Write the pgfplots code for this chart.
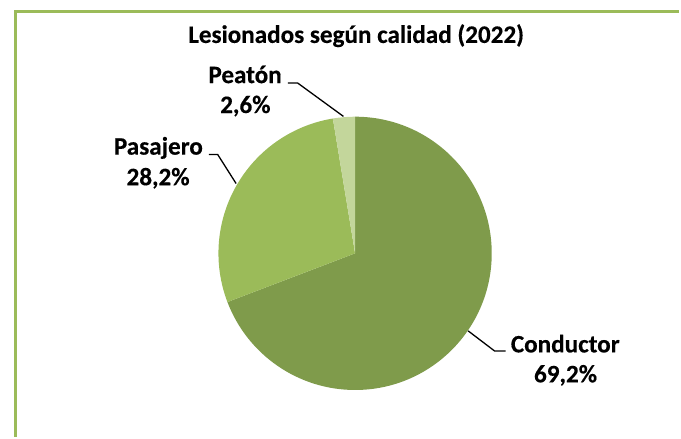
\documentclass[border=0pt]{standalone}
\usepackage{pgfplots}
\pgfplotsset{compat=1.18}
\usepackage{pgfplotstable}
\usepackage{fontspec}
\setmainfont{Carlito}[BoldFeatures={FakeBold=0.35}]
\definecolor{frame}{HTML}{9BBB59}
\definecolor{cond}{HTML}{7F9B4B}
\definecolor{pasa}{HTML}{9BBB59}
\definecolor{peat}{HTML}{C3D69B}
\pgfplotstableread{
label value
Conductor 69.2
Pasajero 28.2
Peaton 2.6
}\piedata
\begin{document}
\begin{tikzpicture}
\begin{axis}[width=681bp, height=438bp, scale only axis, hide axis,
  xmin=0, xmax=681, ymin=0, ymax=438, clip=false]
\path (axis cs:0,0) rectangle (axis cs:681,438);
% frame
\draw[frame, line width=3.5bp] (axis cs:15.5,0) -- (axis cs:15.5,426.5) -- (axis cs:681,426.5);
% pie slices from table values
\pgfplotstablegetelem{0}{value}\of\piedata \let\vA\pgfplotsretval
\pgfplotstablegetelem{1}{value}\of\piedata \let\vB\pgfplotsretval
\pgfplotstablegetelem{2}{value}\of\piedata \let\vC\pgfplotsretval
\pgfmathsetmacro{\aA}{90}
\pgfmathsetmacro{\aB}{90-3.6*\vA}
\pgfmathsetmacro{\aC}{\aB-3.6*\vB}
\pgfmathsetmacro{\aD}{\aC-3.6*\vC}
\fill[cond] (axis cs:356,184) -- ++(\aA:137bp) arc[start angle=\aA, end angle=\aB, radius=137bp] -- cycle;
\fill[pasa] (axis cs:356,184) -- ++(\aB:137bp) arc[start angle=\aB, end angle=\aC, radius=137bp] -- cycle;
\fill[peat] (axis cs:356,184) -- ++(\aC:137bp) arc[start angle=\aC, end angle=\aD, radius=137bp] -- cycle;
% leader lines
\draw[black, line width=1.3bp] (axis cs:288.5,354.7) -- (axis cs:298.5,354.7) -- (axis cs:344.3,321.3);
\draw[black, line width=1.3bp] (axis cs:209.3,283) -- (axis cs:218.3,283) -- (axis cs:236.7,254);
\draw[black, line width=1.3bp] (axis cs:469.3,106.3) -- (axis cs:496,86) -- (axis cs:507,86);
% texts
\tikzset{lab/.style={anchor=base, inner sep=0pt, font=\bfseries\fontsize{25.2bp}{30bp}\selectfont}}
\node[lab] at (axis cs:357,395) {Lesionados según calidad (2022)};
\node[lab] at (axis cs:245.7,354.7) {Peatón};
\node[lab] at (axis cs:246,324.7) {2,6\%};
\node[lab] at (axis cs:158.8,283) {Pasajero};
\node[lab] at (axis cs:158.5,252.3) {28,2\%};
\node[lab] at (axis cs:566.7,84.7) {Conductor};
\node[lab] at (axis cs:567,54.7) {69,2\%};
\end{axis}
\end{tikzpicture}
\end{document}
